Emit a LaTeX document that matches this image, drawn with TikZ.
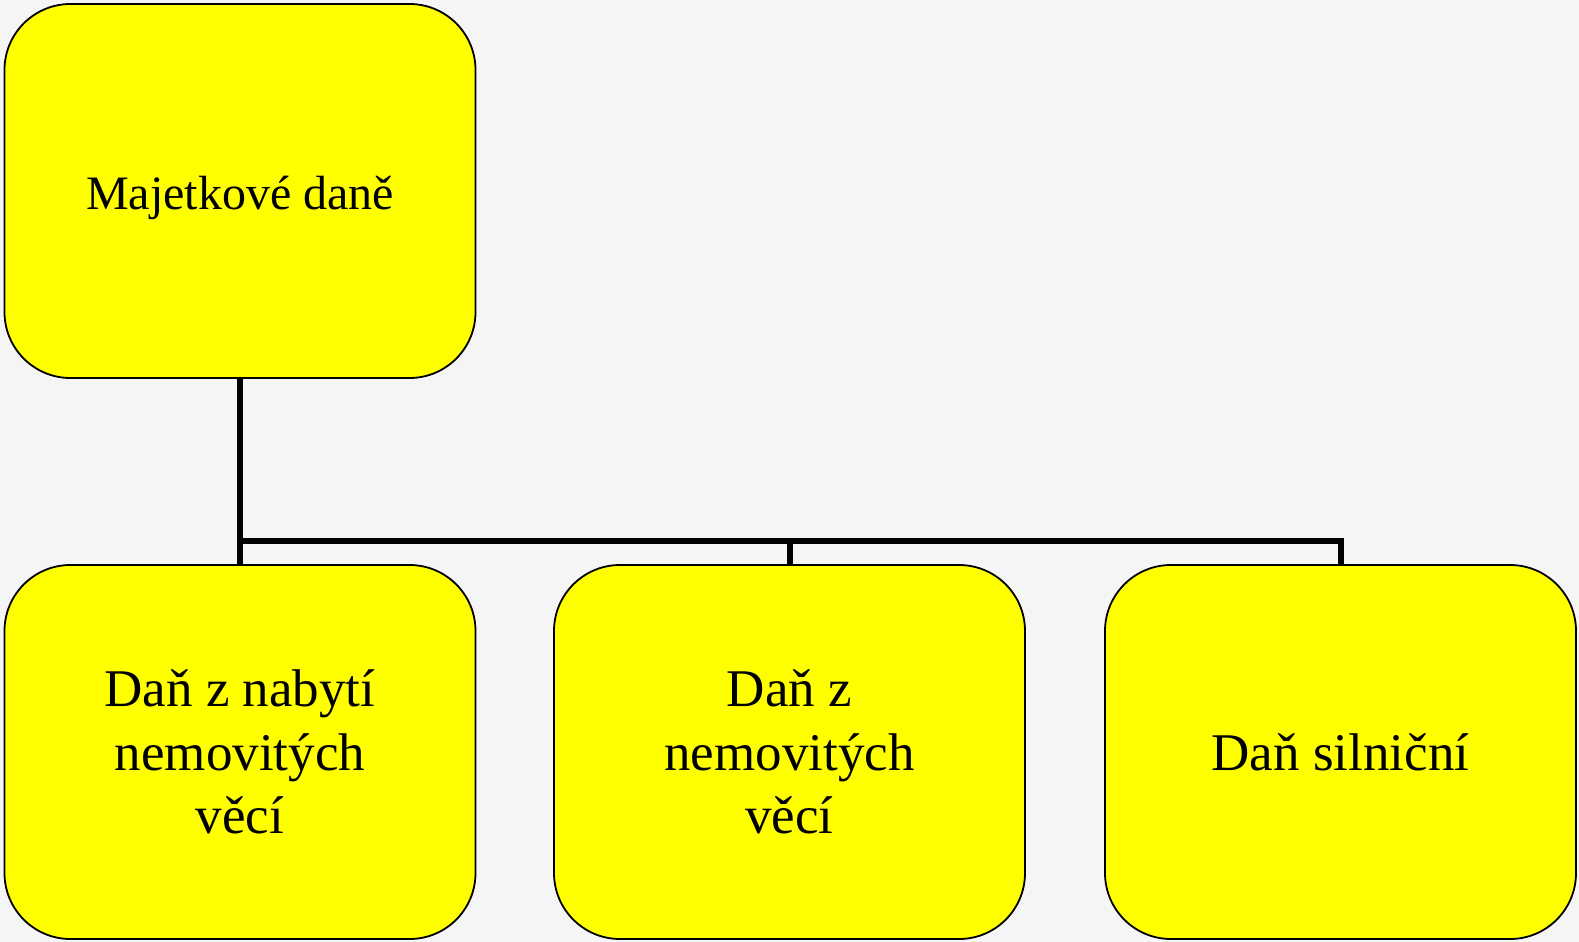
\documentclass[tikz,border=0pt]{standalone}
\usepackage{fontspec}
\setmainfont{Liberation Serif}
\usetikzlibrary{positioning}
\definecolor{pozadi}{HTML}{F5F5F5}
\definecolor{zluta}{HTML}{FFFF00}
\tikzset{
  box/.style={draw=black, line width=0.9pt, fill=zluta, rounded corners=33pt,
    minimum width=235.5pt, minimum height=187pt, align=center,
    font=\fontsize{26.5}{31.7}\selectfont},
  spoj/.style={draw=black, line width=3pt},
}
\begin{document}
\begin{tikzpicture}[x=0.5pt, y=-0.5pt]
    \fill[pozadi] (0,0) rectangle (1579,942);
    \useasboundingbox (0,0) rectangle (1579,942);
    \node[box, font=\fontsize{24}{30}\selectfont] (majetkove) at (240,191) {\raisebox{-3pt}[17pt][5pt]{Majetkové daně}};
    \node[box] (nabyti) at (240,752) {Daň z nabytí\\nemovitých\\věcí};
    \node[box] (nemovite) at (789.5,752) {Daň z\\nemovitých\\věcí};
    \node[box] (silnicni) at (1340.5,752) {Daň silniční};
    \coordinate (bus) at (240,541);
    \draw[spoj] (majetkove.south) -- (majetkove.south |- bus);
    \draw[spoj] (nabyti.north) -- (nabyti.north |- bus) -- (silnicni.north |- bus) -- (silnicni.north);
    \draw[spoj] (nemovite.north) -- (nemovite.north |- bus);
\end{tikzpicture}
\end{document}
